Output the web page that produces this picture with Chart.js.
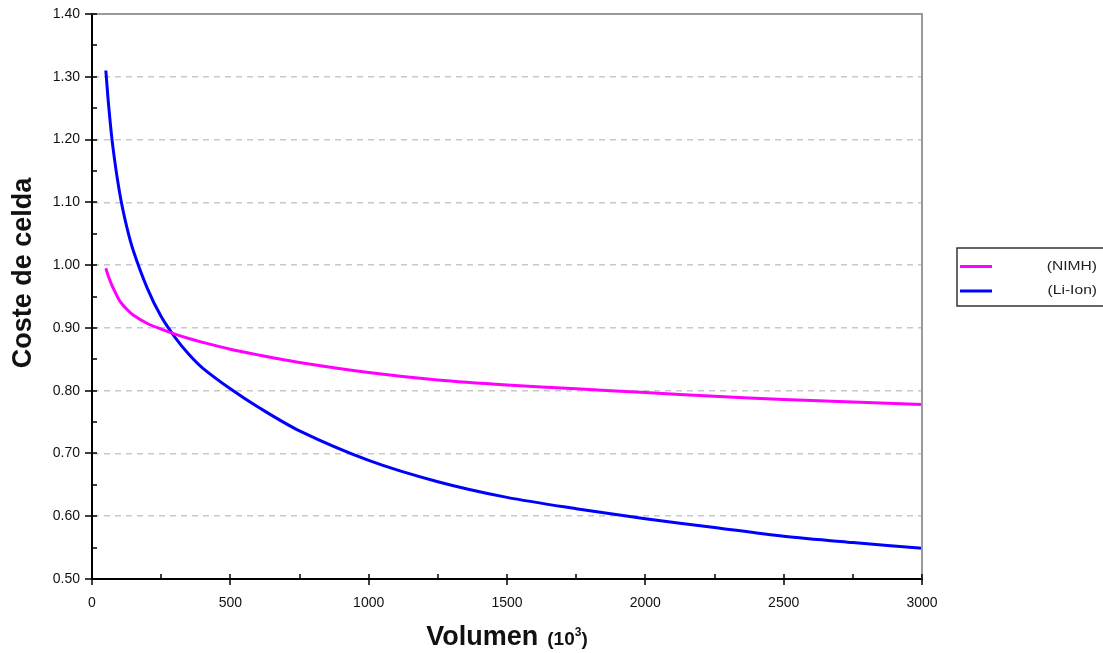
<!DOCTYPE html>
<html lang="es">
<head>
  <meta charset="UTF-8">
  <title>Coste de celda vs Volumen</title>
  <script src="https://cdn.jsdelivr.net/npm/chart.js"></script>
  <style>
    body {
      margin: 0;
      background: #fff;
    }
    #chart {
      display: block;
    }
  </style>
</head>
<body>
  <canvas id="chart" width="1103" height="653"></canvas>

  <script>
    // valores
    const volumen = [50, 60, 75, 100, 125, 150, 200, 250, 300, 350, 400, 500, 600, 750, 1000, 1250, 1500, 1750, 2000, 2250, 2500, 2750, 3000];
    const costeNiMH = [0.995, 0.981, 0.965, 0.943, 0.930, 0.920, 0.907, 0.898, 0.890, 0.883, 0.877, 0.866, 0.857, 0.845, 0.829, 0.817, 0.809, 0.803, 0.797, 0.791, 0.786, 0.782, 0.778];
    const costeLiIon = [1.31, 1.255, 1.19, 1.115, 1.062, 1.022, 0.963, 0.918, 0.885, 0.858, 0.836, 0.803, 0.774, 0.736, 0.689, 0.655, 0.630, 0.612, 0.596, 0.582, 0.568, 0.558, 0.549];
    const seriesNames = ['(NIMH)', '(Li-Ion)'];
    const seriesColors = ['#ff00ff', '#0000ff'];
    const xTitle = 'Volumen';
    const xUnit = '(10';
    const yTitle = 'Coste de celda';

    const FONT = "'Liberation Sans', Arial, sans-serif";

    // ejes, marcas menores, titulos y leyenda
    const decor = {
      id: 'decor',
      afterDraw(chart) {
        const ctx = chart.ctx;
        const a = chart.chartArea;
        const xs = chart.scales.x, ys = chart.scales.y;
        ctx.save();

        // marco gris arriba y a la derecha
        ctx.strokeStyle = '#9a9a9a';
        ctx.lineWidth = 2;
        ctx.beginPath();
        ctx.moveTo(a.left, a.top);
        ctx.lineTo(a.right, a.top);
        ctx.lineTo(a.right, a.bottom);
        ctx.stroke();

        // marcas de los ejes
        ctx.strokeStyle = '#000';
        ctx.lineWidth = 1.5;
        ctx.beginPath();
        for (let v = 0; v <= 3000; v += 250) {
          const px = Math.round(xs.getPixelForValue(v));
          const major = v % 500 === 0;
          ctx.moveTo(px, a.bottom - 5);
          ctx.lineTo(px, a.bottom + (major ? 6 : 0));
        }
        for (let i = 0; i <= 18; i++) {
          const v = 0.5 + i * 0.05;
          const py = Math.round(ys.getPixelForValue(v));
          const major = i % 2 === 0;
          ctx.moveTo(a.left - (major ? 7 : 0), py);
          ctx.lineTo(a.left + 5, py);
        }
        ctx.stroke();

        // titulo eje x
        ctx.fillStyle = '#111';
        ctx.textBaseline = 'alphabetic';
        ctx.textAlign = 'left';
        ctx.font = 'bold 27px ' + FONT;
        const w1 = ctx.measureText(xTitle).width;
        ctx.font = 'bold 19px ' + FONT;
        const w2 = ctx.measureText(xUnit).width;
        ctx.font = 'bold 12px ' + FONT;
        const w3 = ctx.measureText('3').width;
        ctx.font = 'bold 19px ' + FONT;
        const w4 = ctx.measureText(')').width;
        const gap = 9;
        let x0 = 507 - (w1 + gap + w2 + w3 + w4) / 2;
        const base = 645;
        ctx.font = 'bold 27px ' + FONT;
        ctx.fillText(xTitle, x0, base);
        x0 += w1 + gap;
        ctx.font = 'bold 19px ' + FONT;
        ctx.fillText(xUnit, x0, base);
        x0 += w2;
        ctx.font = 'bold 12px ' + FONT;
        ctx.fillText('3', x0, base - 9);
        x0 += w3;
        ctx.font = 'bold 19px ' + FONT;
        ctx.fillText(')', x0, base);

        // titulo eje y
        ctx.save();
        ctx.translate(24, 273);
        ctx.rotate(-Math.PI / 2);
        ctx.font = 'bold 27px ' + FONT;
        ctx.textAlign = 'center';
        ctx.textBaseline = 'middle';
        ctx.fillText(yTitle, 0, 0);
        ctx.restore();

        // leyenda
        ctx.strokeStyle = '#333';
        ctx.lineWidth = 1.5;
        ctx.strokeRect(957, 248, 160, 58);
        const rows = [266.5, 291];
        seriesNames.forEach((name, i) => {
          ctx.strokeStyle = seriesColors[i];
          ctx.lineWidth = 3;
          ctx.beginPath();
          ctx.moveTo(960, rows[i]);
          ctx.lineTo(992, rows[i]);
          ctx.stroke();
          ctx.save();
          ctx.translate(1097, rows[i]);
          ctx.scale(1.3, 1);
          ctx.font = '12px ' + FONT;
          ctx.textAlign = 'right';
          ctx.textBaseline = 'middle';
          ctx.fillStyle = '#222';
          ctx.fillText(name, 0, 0);
          ctx.restore();
        });

        ctx.restore();
      }
    };

    const ctx = document.getElementById('chart').getContext('2d');
    new Chart(ctx, {
      type: 'line',
      data: {
        datasets: [
          {
            label: seriesNames[0],
            data: volumen.map((v, i) => ({ x: v, y: costeNiMH[i] })),
            borderColor: seriesColors[0],
            borderWidth: 3,
            pointRadius: 0,
            tension: 0.3,
            fill: false
          },
          {
            label: seriesNames[1],
            data: volumen.map((v, i) => ({ x: v, y: costeLiIon[i] })),
            borderColor: seriesColors[1],
            borderWidth: 3,
            pointRadius: 0,
            tension: 0.3,
            fill: false
          }
        ]
      },
      options: {
        responsive: false,
        animation: false,
        layout: { padding: { left: 0, right: 181, top: 14, bottom: 0 } },
        plugins: {
          legend: { display: false },
          tooltip: { enabled: false }
        },
        scales: {
          x: {
            type: 'linear',
            min: 0,
            max: 3000,
            afterFit: s => { s.height = 74; s.paddingLeft = 0; s.paddingRight = 0; },
            grid: { display: false, drawTicks: false },
            border: { color: '#000', width: 2 },
            ticks: {
              stepSize: 500,
              padding: 16,
              color: '#111',
              font: { family: FONT, size: 14 },
              maxRotation: 0,
              callback: v => String(v)
            }
          },
          y: {
            min: 0.5,
            max: 1.4,
            afterFit: s => { s.width = 92; s.paddingTop = 0; s.paddingBottom = 0; },
            grid: { color: '#c8c8c8', lineWidth: 1.5, drawTicks: false },
            border: { color: '#000', width: 2, dash: [6, 5] },
            ticks: {
              stepSize: 0.1,
              padding: 12,
              color: '#111',
              font: { family: FONT, size: 14 },
              callback: v => v.toFixed(2)
            }
          }
        }
      },
      plugins: [decor]
    });
  </script>
</body>
</html>
